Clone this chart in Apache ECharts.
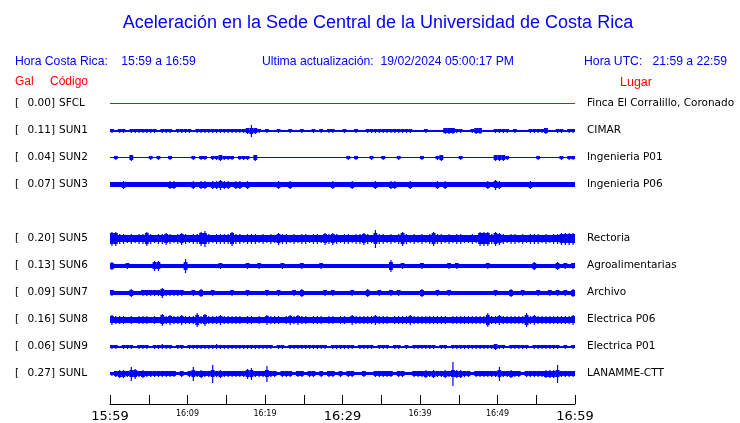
<!DOCTYPE html>
<html><head><meta charset="utf-8">
<script src="https://cdn.jsdelivr.net/npm/echarts@6.0.0/dist/echarts.min.js"></script>
<style>html,body{margin:0;padding:0;background:#fff}#c{width:740px;height:423px}</style>
</head><body><div id="c"></div>
<script>
const titleText = 'Aceleración en la Sede Central de la Universidad de Costa Rica';
const horaCR = 'Hora Costa Rica:    15:59 a 16:59';
const lastUpdate = 'Ultima actualización:  19/02/2024 05:00:17 PM';
const horaUTC = 'Hora UTC:   21:59 a 22:59';
const headGal = 'Gal', headCode = 'Código', headPlace = 'Lugar';

const codes = ['SFCL','SUN1','SUN2','SUN3','SUN5','SUN6','SUN7','SUN8','SUN9','SUNL'];
const galValues = ['0.00','0.11','0.04','0.07','0.20','0.13','0.09','0.16','0.06','0.27'];
const places = ['Finca El Corralillo, Coronado','CIMAR','Ingenieria P01','Ingenieria P06','Rectoria','Agroalimentarias','Archivo','Electrica P06','Electrica P01','LANAMME-CTT'];
const rowSlots = [0,1,2,3,5,6,7,8,9,10];

// minutes after 15:59, ticks every 5 min
const tickMinutes = [0,5,10,15,20,25,30,35,40,45,50,55,60];
const tickLabels = ['15:59','','16:09','','16:19','','16:29','','16:39','','16:49','','16:59'];
const majorLabels = ['15:59','16:29','16:59'];

// trace noise band half-height (display px) and peak half-amplitude every 30 s (display px, 0 = none)
const baseBand = [0.5, 1, 0.75, 2.5, 3.5, 2, 2, 3, 1, 1.8];
const sfcl = [];
const sun1 = [2,0,2,2,0,2,2,2,2,2, 2,2,0,2,2,2,0,2,2,2, 2,0,2,2,2,2,2,2,2,2, 2,2,2,2,2,3,6,3,2,0,
  2,0,0,2,0,0,2,0,0,2, 0,0,2,0,2,0,2,2,0,0, 2,0,0,2,0,0,2,2,2,2, 2,2,2,2,2,2,2,2,0,0,
  0,2,0,0,0,0,3,3,3,2, 2,0,0,2,3,3,0,0,0,2, 2,2,2,0,2,0,0,0,2,2, 2,2,3,0,0,2,2,0,2,2];
const sun2 = [0,2,0,0,0,3,0,0,0,0, 2,0,2,0,0,2,0,0,0,0, 0,2,0,2,2,0,2,2,3,2, 2,2,0,2,2,2,0,3,0,0,
  0,0,0,0,0,0,0,0,0,0, 0,0,0,0,0,0,0,0,0,0, 0,2,0,2,0,0,0,2,0,0, 2,0,0,0,2,0,0,0,0,0,
  2,0,0,0,2,3,0,0,0,0, 2,0,0,0,0,0,0,0,0,3, 3,3,2,0,0,0,0,0,0,0, 2,0,0,0,0,0,2,0,2,2];
const sun3 = [0,0,0,4,0,0,0,0,0,0, 0,0,0,0,0,4,4,0,0,0, 0,4,0,4,4,0,4,4,5,4, 4,0,4,4,0,4,0,0,0,0,
  0,0,0,4,0,0,4,0,0,0, 0,0,0,0,0,0,0,4,0,0, 0,0,4,0,0,0,0,0,4,0, 0,0,4,4,0,0,0,4,0,0,
  0,0,0,0,4,0,4,0,0,0, 0,0,0,0,0,0,0,4,0,5, 4,0,0,0,0,0,0,0,4,0, 0,0,0,0,0,0,0,0,0,0];
const sun5 = [7,7,5,5,4,5,4,5,5,7, 5,4,5,5,6,5,4,5,6,5, 4,5,5,7,8,5,4,5,5,5, 5,7,5,5,4,5,5,5,4,5,
  4,5,4,6,5,5,4,5,4,5, 5,4,5,5,4,6,5,6,5,4, 5,5,4,5,5,6,5,4,9,5, 5,4,5,4,5,7,5,4,5,4,
  5,4,5,7,5,5,4,5,4,5, 5,4,4,5,4,7,7,7,5,7, 6,5,4,5,5,4,5,4,5,5, 5,4,5,4,5,5,6,6,6,6];
const sun6 = [4,0,0,0,3,0,0,0,0,0, 0,5,5,0,0,0,0,0,0,7, 0,0,0,0,0,0,0,0,3,0, 0,0,0,0,0,3,0,0,3,0,
  0,0,0,0,3,0,0,0,0,3, 0,0,0,0,3,0,0,0,0,0, 0,0,0,0,0,0,0,0,0,0, 0,0,6,0,0,3,0,0,0,0,
  3,0,0,0,0,0,0,3,0,3, 0,0,0,0,0,0,0,3,0,0, 0,0,0,0,0,0,0,0,0,4, 0,0,0,0,0,4,0,3,0,3];
const sun7 = [3,0,0,0,0,4,0,0,3,3, 3,3,3,5,3,3,3,3,3,0, 0,3,0,4,0,0,3,0,0,0, 0,3,0,0,0,3,0,0,0,0,
  3,0,0,3,0,0,0,3,0,4, 0,0,0,0,0,3,0,3,0,0, 0,0,3,0,0,0,4,0,0,3, 0,0,3,0,3,0,0,0,0,0,
  4,0,0,0,3,0,0,3,0,0, 0,0,0,0,0,0,0,0,0,3, 0,0,0,4,0,0,3,0,0,0, 3,0,0,3,0,3,0,3,0,4];
const sun8 = [5,4,4,4,3,4,3,4,4,4, 3,4,3,6,4,5,4,4,5,4, 4,4,7,4,6,4,4,4,5,4, 4,4,4,4,3,4,4,3,4,3,
  5,4,4,4,3,4,5,4,5,4, 4,3,4,4,4,3,4,4,3,4, 4,3,5,4,4,4,4,4,5,4, 4,4,3,4,4,4,4,5,4,4,
  4,4,4,4,4,4,4,3,4,4, 4,4,4,4,4,4,4,7,4,4, 5,4,4,4,4,4,4,7,4,5, 4,4,4,4,4,4,4,4,4,5];
const sun9 = [2,2,0,2,2,2,0,2,2,2, 0,2,2,2.5,2,2,0,2,2,0, 2,2,2,2,2,2,2,2.5,2,2, 2,2,2,2,2,2,2,2,2,2,
  2,2,0,2,2,0,2,2,2,2, 2,2,2,2,2,2,0,2,2,2, 2,2,2,0,2,2,2,2,0,2, 2,2,0,2,2,0,2,0,2,2,
  2,2,2,2,0,2,2,0,2,2, 2,2,2,2,2,2,2,2,2,3, 2,2,0,2,2,2,2,2,0,2, 2,2,2,2,2,2,0,2,0,2];
const sunl = [2,3,4,4,3,7,5,3,4,3, 3,3,3,3,3,3,3,0,3,0, 3,7,3,4,3,3,9,3,4,3, 3,3,3,3,3,5,6,3,3,3,
  8,3,3,0,3,3,3,0,3,3, 0,3,3,0,3,0,3,3,0,3, 0,3,3,0,0,3,0,0,3,3, 3,3,3,0,3,3,0,0,3,3,
  3,4,3,4,3,3,4,3,12,4, 4,3,3,0,3,3,3,3,3,3, 7,3,3,4,3,3,0,3,3,3, 3,3,4,4,4,9,3,3,3,3];
const traces = [sfcl, sun1, sun2, sun3, sun5, sun6, sun7, sun8, sun9, sunl];
const traceColors = ['#ff0000','#0000ff','#0000ff','#0000ff','#0000ff','#0000ff','#0000ff','#0000ff','#0000ff','#0000ff'];

const ROW_PX = 27;      // display px per row
const SAMPLE_MIN = 0.5; // minutes per amplitude sample
const BODY_EXTRA = 2;   // max burst body height above noise band (display px)

const chart = echarts.init(document.getElementById('c'), null, {renderer: 'canvas'});

function snapRect(x0, x1, ya, yb) {
  let y0 = Math.round(Math.min(ya, yb)), y1 = Math.round(Math.max(ya, yb));
  if (y1 <= y0) y1 = y0 + 1;
  return {x: x0, y: y0, width: x1 - x0, height: y1 - y0};
}
function bandItem(params, api) {
  const row = api.value(2), half = api.value(3) / ROW_PX;
  const p0 = api.coord([api.value(0), row - half]);
  const p1 = api.coord([api.value(1), row + half]);
  return {type: 'rect', shape: snapRect(p0[0], p1[0], p0[1], p1[1]), style: {fill: api.visual('color')}};
}
function spikeItem(params, api) {
  const t = api.value(0), row = api.value(1), amp = api.value(2), band = api.value(3);
  const a = amp / ROW_PX;
  const b = Math.min(amp * 0.75, band + BODY_EXTRA) / ROW_PX;
  const tl = api.coord([t - SAMPLE_MIN / 2, row - b]);
  const tr = api.coord([t + SAMPLE_MIN / 2, row + b]);
  const c0 = api.coord([t, row - a]);
  const c1 = api.coord([t, row + a]);
  return {type: 'group', children: [
    {type: 'rect', shape: snapRect(tl[0], tr[0], tl[1], tr[1]), style: {fill: api.visual('color')}},
    {type: 'rect', shape: snapRect(c0[0] - 0.6, c0[0] + 0.6, c0[1], c1[1]), style: {fill: api.visual('color')}}
  ]};
}

const series = [];
traces.forEach((arr, k) => {
  const row = rowSlots[k];
  series.push({type: 'custom', name: codes[k] + '-band', renderItem: bandItem, silent: true, xAxisIndex: 0, yAxisIndex: 0,
    itemStyle: {color: traceColors[k]}, data: [[0, 60, row, baseBand[k]]], animation: false});
  if (arr.length) {
    series.push({type: 'custom', name: codes[k], renderItem: spikeItem, silent: true, xAxisIndex: 0, yAxisIndex: 0,
      itemStyle: {color: traceColors[k]}, animation: false,
      data: arr.map((a, i) => [(i + 0.5) * SAMPLE_MIN, row, a, baseBand[k]]).filter(d => d[2] > 0)});
  }
});

chart.setOption({
  animation: false,
  backgroundColor: '#ffffff',
  grid: [{left: 110, right: 165, top: 90, height: 324}, {left: 110, right: 165, top: 400, bottom: 14}],
  xAxis: [
    {gridIndex: 0, type: 'value', min: 0, max: 60, show: false},
    {gridIndex: 1, type: 'value', min: 0, max: 60, interval: 5, position: 'bottom',
      axisLine: {onZero: false, lineStyle: {color: '#000', width: 1}},
      axisTick: {inside: true, length: 9, lineStyle: {color: '#000'}},
      splitLine: {show: false},
      axisLabel: {margin: 6, color: '#000',
        formatter: v => { const s = tickLabels[tickMinutes.indexOf(Math.round(v))]; if (!s) return ''; return majorLabels.includes(s) ? '{big|' + s + '}' : '{small|' + s + '}'; },
        rich: {big: {fontFamily: 'DejaVu Sans', fontSize: 13, color: '#000'}, small: {fontFamily: 'DejaVu Sans', fontSize: 8, color: '#000'}}}
    }
  ],
  yAxis: [
    {gridIndex: 0, type: 'value', inverse: true, min: -0.5, max: 11.5, show: false},
    {gridIndex: 1, type: 'value', min: 0, max: 1, show: false}
  ],
  series: series
});

const sans = '"Liberation Sans", Arial, sans-serif';
const graphics = [
  {type: 'text', x: 378, y: 14, style: {text: titleText, fill: '#0000ff', align: 'center', font: '18px ' + sans}},
  {type: 'text', x: 15, y: 56, style: {text: horaCR, fill: '#0000ff', font: '12.2px ' + sans}},
  {type: 'text', x: 388, y: 56, style: {text: lastUpdate, fill: '#0000ff', align: 'center', font: '12.2px ' + sans}},
  {type: 'text', x: 727, y: 56, style: {text: horaUTC, fill: '#0000ff', align: 'right', font: '12.2px ' + sans}},
  {type: 'text', x: 15, y: 76, style: {text: headGal, fill: '#ff0000', font: '12px ' + sans}},
  {type: 'text', x: 50, y: 76, style: {text: headCode, fill: '#ff0000', font: '12px ' + sans}},
  {type: 'text', x: 620, y: 76, style: {text: headPlace, fill: '#ff0000', font: '12.5px ' + sans}}
];
codes.forEach((c, k) => {
  const y = chart.convertToPixel({gridIndex: 0}, [0, rowSlots[k]])[1];
  graphics.push({type: 'text', x: 15, y: y, style: {text: '[', fill: '#000', verticalAlign: 'middle', font: '10.5px "DejaVu Sans"'}});
  graphics.push({type: 'text', x: 55, y: y, style: {text: galValues[k] + ']', fill: '#000', align: 'right', verticalAlign: 'middle', font: '10.5px "DejaVu Sans"'}});
  graphics.push({type: 'text', x: 59, y: y, style: {text: c, fill: '#000', verticalAlign: 'middle', font: '10.5px "DejaVu Sans"'}});
  graphics.push({type: 'text', x: 587, y: y, style: {text: places[k], fill: '#000', verticalAlign: 'middle', font: '10.5px "DejaVu Sans"'}});
});
chart.setOption({graphic: graphics});
</script></body></html>
